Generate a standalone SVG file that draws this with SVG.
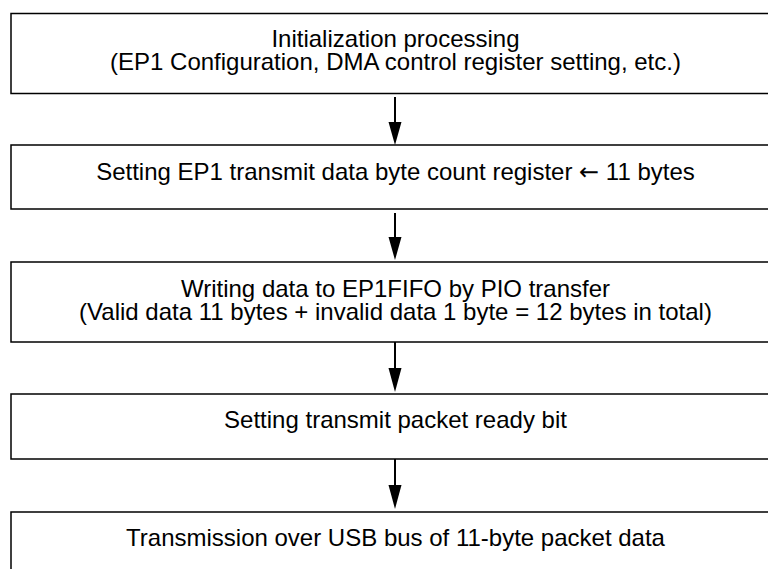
<svg xmlns="http://www.w3.org/2000/svg" width="768" height="569" viewBox="0 0 768 569">
  <style>
    .box { fill: #ffffff; stroke: #000000; stroke-width: 1.5; }
    .lbl { font-family: "Liberation Sans", Arial, Helvetica, sans-serif; font-size: 24px; fill: #000000; text-anchor: middle; }
    .sym { font-family: "DejaVu Sans", sans-serif; font-size: 24px; }
    .conn { stroke: #000000; stroke-width: 2; fill: none; }
    .head { fill: #000000; stroke: none; }
  </style>
  <rect x="0" y="0" width="768" height="569" fill="#ffffff"/>
  <g id="node-init">
    <rect class="box" x="11" y="13.5" width="772" height="80"/>
    <text class="lbl" x="395.5" y="47">Initialization processing</text>
    <text class="lbl" x="395.5" y="70">(EP1 Configuration, DMA control register setting, etc.)</text>
  </g>
  <g id="node-count">
    <rect class="box" x="11" y="145" width="772" height="64"/>
    <text class="lbl" x="395.5" y="179.5">Setting EP1 transmit data byte count register <tspan class="sym">←</tspan> 11 bytes</text>
  </g>
  <g id="node-write">
    <rect class="box" x="11" y="262" width="772" height="80"/>
    <text class="lbl" x="395.5" y="296.5">Writing data to EP1FIFO by PIO transfer</text>
    <text class="lbl" x="395.5" y="320">(Valid data 11 bytes + invalid data 1 byte = 12 bytes in total)</text>
  </g>
  <g id="node-ready">
    <rect class="box" x="11" y="394" width="772" height="65"/>
    <text class="lbl" x="395.5" y="428">Setting transmit packet ready bit</text>
  </g>
  <g id="node-transmit">
    <rect class="box" x="11" y="512" width="772" height="70"/>
    <text class="lbl" x="395.5" y="545.5">Transmission over USB bus of 11-byte packet data</text>
  </g>
  <g id="connectors">
    <line class="conn" x1="395" y1="97" x2="395" y2="124"/>
    <polygon class="head" points="388.5,122 401.5,122 395,145"/>
    <line class="conn" x1="395" y1="213" x2="395" y2="240"/>
    <polygon class="head" points="388.5,237 401.5,237 395,260"/>
    <line class="conn" x1="395" y1="342" x2="395" y2="370"/>
    <polygon class="head" points="388.5,368 401.5,368 395,392"/>
    <line class="conn" x1="395" y1="459" x2="395" y2="487"/>
    <polygon class="head" points="388.5,485 401.5,485 395,509"/>
  </g>
</svg>
